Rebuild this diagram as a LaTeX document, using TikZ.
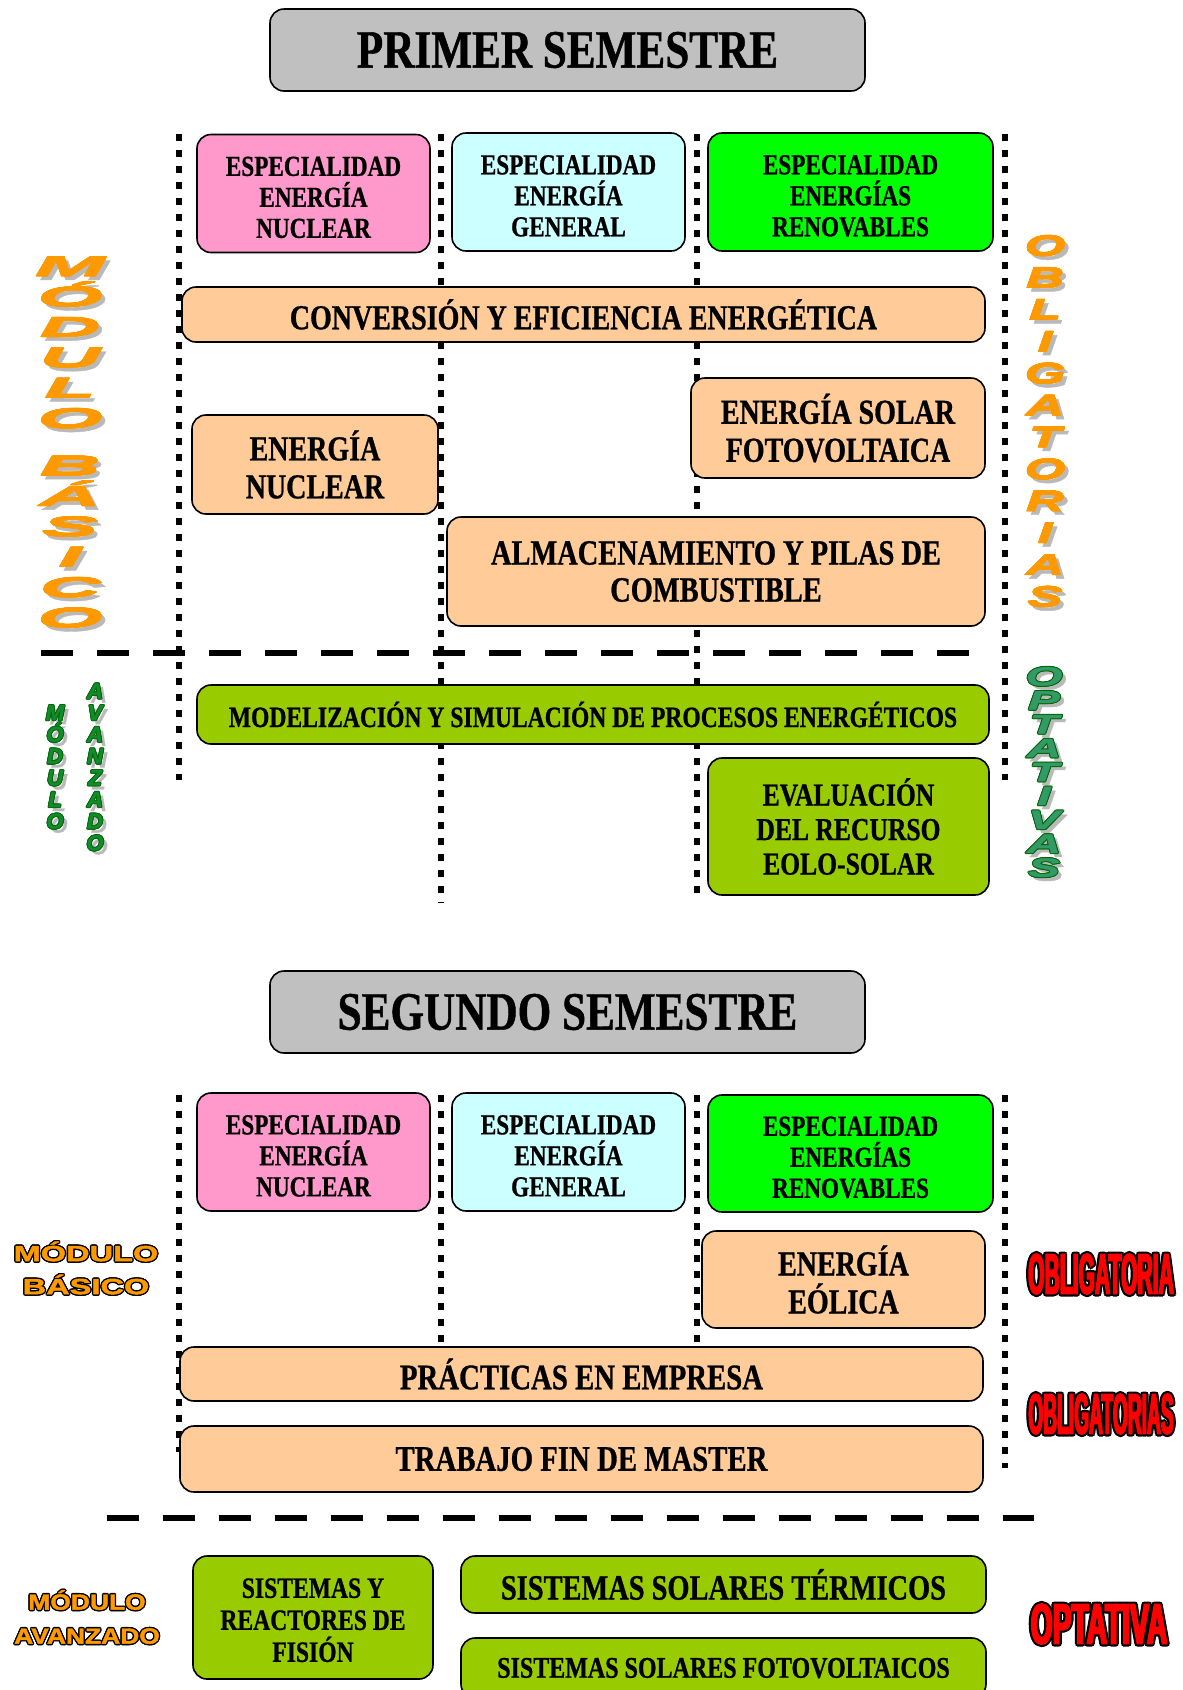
\documentclass[tikz,border=0pt]{standalone}
\usepackage{fontspec}
\usepackage{graphicx}
\setmainfont{Liberation Serif}[FakeStretch=0.8, FakeBold=0.8]
\newfontfamily\artwide{Liberation Sans}[FakeStretch=3, FakeBold=1.5]
\newfontfamily\artmid{Liberation Sans}[FakeStretch=1.8, FakeBold=1.5]
\newfontfamily\artflat{Liberation Sans}[FakeStretch=1.48, FakeBold=2]
\newfontfamily\artflatb{Liberation Sans}[FakeStretch=1.2, FakeBold=2]
\newfontfamily\artplain{Liberation Sans}[FakeBold=1]
\newfontfamily\artnarrow{Liberation Sans}[FakeStretch=0.37, FakeBold=2.5]
\usetikzlibrary{positioning}

\definecolor{tgray}{HTML}{C0C0C0}
\definecolor{tpink}{HTML}{FF99CC}
\definecolor{tcyan}{HTML}{CCFFFF}
\definecolor{tgreen}{HTML}{00FF00}
\definecolor{tpeach}{HTML}{FFCC99}
\definecolor{tlime}{HTML}{99CC00}
\definecolor{artorange}{HTML}{FF9900}
\definecolor{artgreen}{HTML}{339966}
\definecolor{artgreenb}{HTML}{128A2E}
\definecolor{artdkgreen}{HTML}{006600}

% outlined and shadowed word art
\newlength\olw
\newcommand\outl[4][1.5pt]{%
  \setlength\olw{#1}\leavevmode
  \rlap{\color{#2}\kern-\olw#4}%
  \rlap{\color{#2}\kern\olw#4}%
  \rlap{\color{#2}\raisebox{\olw}[0pt][0pt]{#4}}%
  \rlap{\color{#2}\raisebox{-\olw}[0pt][0pt]{#4}}%
  \rlap{\color{#2}\kern-.7\olw\raisebox{.7\olw}[0pt][0pt]{#4}}%
  \rlap{\color{#2}\kern.7\olw\raisebox{.7\olw}[0pt][0pt]{#4}}%
  \rlap{\color{#2}\kern-.7\olw\raisebox{-.7\olw}[0pt][0pt]{#4}}%
  \rlap{\color{#2}\kern.7\olw\raisebox{-.7\olw}[0pt][0pt]{#4}}%
  {\color{#3}#4}}
\newcommand\shad[4]{\leavevmode\rlap{\color{#1}\kern#2\raisebox{-#3}[0pt][0pt]{#4}}}
\newcommand\stackup[1]{\vbox{\lineskiplimit=-\maxdimen\lineskip=0pt
  \halign{\hfil##\hfil\cr#1\crcr}}}
\newcommand\artstack[4]{%
  \shad{gray!55}{4pt}{4pt}{\stackup{#4}}%
  \outl[#3]{#1}{#2}{\stackup{#4}}}
\newcommand\lift[1]{\rule{0pt}{#1}}

\begin{document}
\begin{tikzpicture}[x=1pt, y=-1pt,
  cell/.style={draw, line width=1.6pt, rounded corners=14pt, align=center, inner sep=0pt},
  semtitle/.style={cell, fill=tgray, minimum width=595pt, minimum height=82pt,
    font=\bfseries\fontsize{54}{60}\selectfont},
  esp/.style={cell, minimum height=118pt, font=\bfseries\fontsize{29}{31}\selectfont},
  course/.style={cell, fill=tpeach, font=\bfseries\fontsize{35}{38}\selectfont},
  optcourse/.style={cell, fill=tlime, font=\bfseries\fontsize{35}{38}\selectfont},
  dotsep/.style={line width=6.5pt, dash pattern=on 6.5pt off 9.5pt},
  modcut/.style={line width=6pt, dash pattern=on 32pt off 24pt},
  redart/.style={inner sep=0pt, font=\artnarrow\bfseries\fontsize{57}{57}\selectfont}]

\useasboundingbox (0,0) rectangle (1183,1690);
\clip (0,0) rectangle (1183,1690);

% primer semestre
\draw[dotsep] (179,134) -- (179,780);
\draw[dotsep] (441,134) -- (441,903);
\draw[dotsep] (697,134) -- (697,900);
\draw[dotsep] (1005,134) -- (1005,780);
\draw[modcut] (41,653) -- (970,653);

\node[semtitle] (sem1) at (567.5,50) {PRIMER SEMESTRE};
\node[esp, fill=tpink, minimum width=233pt] (nuc1) at (313.5,193.5) {\lift{27pt}ESPECIALIDAD\\ENERGÍA\\NUCLEAR};
\node[esp, fill=tcyan, minimum width=233pt] (gen1) at (568.5,192) {\lift{27pt}ESPECIALIDAD\\ENERGÍA\\GENERAL};
\node[esp, fill=tgreen, minimum width=285pt] (ren1) at (850.5,192) {\lift{27pt}ESPECIALIDAD\\ENERGÍAS\\RENOVABLES};
\node[course, minimum width=803pt, minimum height=55pt] (conv) at (583.5,314.5) {CONVERSIÓN Y EFICIENCIA ENERGÉTICA};
\node[course, minimum width=246pt, minimum height=99pt] (ennuc) at (315,464.5) {ENERGÍA\\NUCLEAR};
\node[course, minimum width=294pt, minimum height=100pt] (solar) at (838,428) {ENERGÍA SOLAR\\FOTOVOLTAICA};
\node[course, minimum width=538pt, minimum height=109pt, font=\bfseries\fontsize{35.5}{37}\selectfont] (almac) at (716,571.5) {ALMACENAMIENTO Y PILAS DE\\COMBUSTIBLE};
\node[optcourse, minimum width=792pt, minimum height=59pt, font=\bfseries\fontsize{29.5}{32}\selectfont] (model) at (593,714.5) {MODELIZACIÓN Y SIMULACIÓN DE PROCESOS ENERGÉTICOS};
\node[optcourse, minimum width=281pt, minimum height=137pt, font=\bfseries\fontsize{32}{34.5}\selectfont] (eval) at (848.5,826.5) {EVALUACIÓN\\DEL RECURSO\\EOLO-SOLAR};

\node[inner sep=0pt, font=\artwide\bfseries\itshape\fontsize{28}{30.4}\selectfont] (basicov) at (70,442)
  {\artstack{artorange}{artorange}{0.3pt}{M\cr Ó\cr D\cr U\cr L\cr O\cr\noalign{\vskip17pt} B\cr Á\cr S\cr I\cr C\cr O}};
\node[inner sep=0pt, font=\artmid\bfseries\itshape\fontsize{29}{31.9}\selectfont] (obligv) at (1045,421)
  {\artstack{artorange}{artorange}{0.3pt}{O\cr B\cr L\cr I\cr G\cr A\cr T\cr O\cr R\cr I\cr A\cr S}};
\node[inner sep=0pt, font=\artplain\bfseries\itshape\fontsize{22}{21.7}\selectfont] (modv) at (55,767)
  {\artstack{artdkgreen}{artgreenb}{0.9pt}{M\cr Ó\cr D\cr U\cr L\cr O}};
\node[inner sep=0pt, font=\artplain\bfseries\itshape\fontsize{22}{21.7}\selectfont] (avanv) at (95,767)
  {\artstack{artdkgreen}{artgreenb}{0.9pt}{A\cr V\cr A\cr N\cr Z\cr A\cr D\cr O}};
\node[inner sep=0pt, font=\artmid\bfseries\itshape\fontsize{26.5}{23.9}\selectfont] (optv) at (1044,772)
  {\artstack{artdkgreen}{artgreen}{1pt}{O\cr P\cr T\cr A\cr T\cr I\cr V\cr A\cr S}};

% segundo semestre
\draw[dotsep] (179,1095) -- (179,1452);
\draw[dotsep] (441,1095) -- (441,1347);
\draw[dotsep] (697,1095) -- (697,1347);
\draw[dotsep] (1005,1095) -- (1005,1468);
\draw[modcut] (107,1518) -- (1034,1518);

\node[semtitle] (sem2) at (567.5,1012) {SEGUNDO SEMESTRE};
\node[esp, fill=tpink, minimum width=233pt] (nuc2) at (313.5,1152) {\lift{27pt}ESPECIALIDAD\\ENERGÍA\\NUCLEAR};
\node[esp, fill=tcyan, minimum width=233pt] (gen2) at (568.5,1152) {\lift{27pt}ESPECIALIDAD\\ENERGÍA\\GENERAL};
\node[esp, fill=tgreen, minimum width=285pt, minimum height=117pt] (ren2) at (850.5,1153.5) {\lift{27pt}ESPECIALIDAD\\ENERGÍAS\\RENOVABLES};
\node[course, minimum width=283pt, minimum height=97pt] (eolica) at (843.5,1279.5) {\lift{30pt}ENERGÍA\\EÓLICA};
\node[course, minimum width=803pt, minimum height=54pt, font=\bfseries\fontsize{36}{38}\selectfont] (practicas) at (581.5,1374) {PRÁCTICAS EN EMPRESA};
\node[course, minimum width=803pt, minimum height=66pt, font=\bfseries\fontsize{36}{38}\selectfont] (tfm) at (581.5,1459) {TRABAJO FIN DE MASTER};
\node[optcourse, minimum width=240pt, minimum height=123pt, font=\bfseries\fontsize{29.5}{32}\selectfont] (fision) at (313,1617.5) {\lift{25pt}SISTEMAS Y\\REACTORES DE\\FISIÓN};
\node[optcourse, minimum width=525pt, minimum height=57pt, font=\bfseries\fontsize{35.5}{38}\selectfont] (termicos) at (723.5,1584.5) {SISTEMAS SOLARES TÉRMICOS};
\node[optcourse, minimum width=525pt, minimum height=60pt, font=\bfseries\fontsize{30}{32}\selectfont] (fotov) at (723.5,1668) {SISTEMAS SOLARES FOTOVOLTAICOS};

\node[inner sep=0pt, align=center, font=\artflat\bfseries\fontsize{22}{33}\selectfont] (basicoh) at (86,1268)
  {\outl[1.4pt]{black}{artorange}{MÓDULO}\\\outl[1.4pt]{black}{artorange}{BÁSICO}};
\node[inner sep=0pt, align=center, font=\artflatb\bfseries\fontsize{22}{34}\selectfont] (avanh) at (87,1617)
  {\outl[1.4pt]{black}{artorange}{MÓDULO}\\\outl[1.4pt]{black}{artorange}{AVANZADO}};
\node[redart] (oblig1) at (1101,1274) {\outl[2.2pt]{black}{red}{OBLIGATORIA}};
\node[redart] (oblig2) at (1101,1414) {\outl[2.2pt]{black}{red}{\scalebox{0.91}[1]{OBLIGATORIAS}}};
\node[redart] (optat) at (1099,1624) {\outl[2.2pt]{black}{red}{\scalebox{1.34}[1]{OPTATIVA}}};
\end{tikzpicture}
\end{document}
